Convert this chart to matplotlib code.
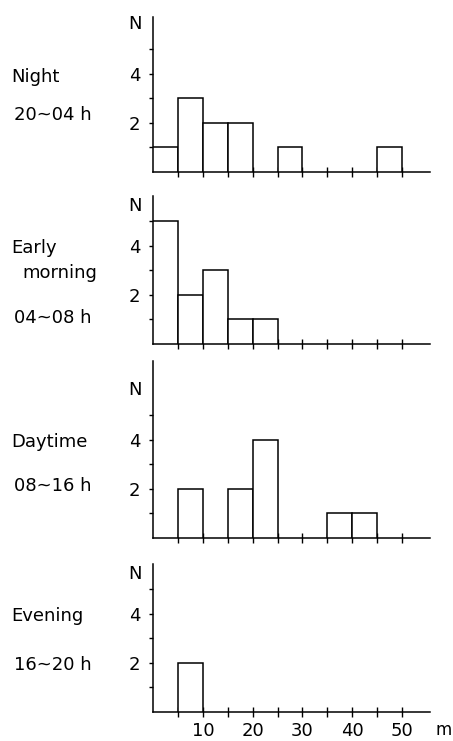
import numpy as np
import matplotlib.pyplot as plt
from matplotlib.ticker import FixedLocator, NullFormatter

# bins of 5 m, left edges
bin_left = [0, 5, 10, 15, 20, 25, 30, 35, 40, 45]
night = [1, 3, 2, 2, 0, 1, 0, 0, 0, 1]
early = [5, 2, 3, 1, 1, 0, 0, 0, 0, 0]
daytime = [0, 2, 0, 2, 4, 0, 0, 1, 1, 0]
evening = [0, 2, 0, 0, 0, 0, 0, 0, 0, 0]

counts = [night, early, daytime, evening]
names = [["Night"], ["Early", "morning"], ["Daytime"], ["Evening"]]
hours = ["20~04 h", "04~08 h", "08~16 h", "16~20 h"]
xtick_labels = ["10", "20", "30", "40", "50"]

W, H = 453, 741
fig = plt.figure(figsize=(W / 100, H / 100), dpi=100)
plt.rcParams['font.family'] = ['DejaVu Sans']

# layout in pixels: baseline row, y-limit top, y of "N", y of labels
baseline_px = [172, 344, 538, 712]
ytop = [6.3, 6.0, 7.2, 6.0]
n_y = [6.0, 5.6, 6.0, 5.6]
name_y = [[3.85], [3.9, 2.9], [3.9], [3.9]]
name_x = [[-0.51], [-0.51, -0.47], [-0.51], [-0.51]]
hour_y = [2.3, 1.05, 2.1, 1.9]
px_per_n = 24.6
x0_px, x1_px = 153, 430
xmax = 55.6
fs = 13

for i in range(4):
    h_px = ytop[i] * px_per_n
    ax = fig.add_axes([x0_px / W, (H - baseline_px[i]) / H,
                       (x1_px - x0_px) / W, h_px / H])
    c = np.array(counts[i])
    b = np.array(bin_left)
    keep = c > 0
    ax.bar(b[keep], c[keep], width=5, align='edge', color='white',
           edgecolor='black', linewidth=1.1, zorder=3)
    ax.set_xlim(0, xmax)
    ax.set_ylim(0, ytop[i])
    for s in ['top', 'right']:
        ax.spines[s].set_visible(False)
    ax.spines['left'].set_linewidth(1.1)
    ax.spines['bottom'].set_linewidth(1.1)

    ax.set_yticks([1, 2, 3, 4, 5])
    ax.set_yticklabels(["", "2", "", "4", ""], fontsize=fs)
    ax.tick_params(axis='y', direction='out', length=3, width=1, pad=6)

    ax.xaxis.set_major_locator(FixedLocator([10, 20, 30, 40, 50]))
    ax.xaxis.set_minor_locator(FixedLocator([5, 15, 25, 35, 45]))
    ax.tick_params(axis='x', which='both', direction='inout', length=7, width=1)
    if i == 3:
        ax.set_xticklabels(xtick_labels, fontsize=fs)
        ax.tick_params(axis='x', pad=4)
        ax.text(60.0, -0.06, "m", transform=ax.get_xaxis_transform(),
                fontsize=12, ha='right', va='top', clip_on=False)
    else:
        ax.xaxis.set_major_formatter(NullFormatter())

    ax.text(-0.065, n_y[i], "N", transform=ax.get_yaxis_transform(),
            fontsize=fs, ha='center', va='center')
    for k, nm in enumerate(names[i]):
        ax.text(name_x[i][k], name_y[i][k], nm, transform=ax.get_yaxis_transform(),
                fontsize=fs, ha='left', va='center')
    ax.text(-0.50, hour_y[i], hours[i], transform=ax.get_yaxis_transform(),
            fontsize=fs, ha='left', va='center')

fig.savefig("out.png", dpi=100, facecolor='white')
